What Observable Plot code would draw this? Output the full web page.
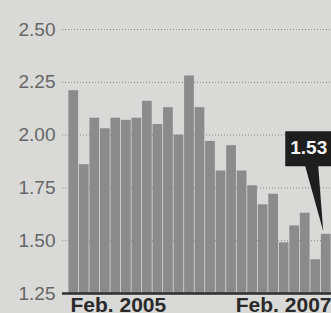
<!DOCTYPE html>
<html>
<head>
<meta charset="utf-8">
<script src="https://cdn.jsdelivr.net/npm/d3@7"></script>
<script src="https://cdn.jsdelivr.net/npm/@observablehq/plot@0.6"></script>
<style>
  html, body { margin: 0; padding: 0; background: #d9d9d7; }
  #chart svg { display: block; }
</style>
</head>
<body>
<div id="chart"></div>
<script>
// Monthly values, Feb. 2005 – Feb. 2007
const months = ["2005-02","2005-03","2005-04","2005-05","2005-06","2005-07","2005-08","2005-09","2005-10","2005-11","2005-12",
  "2006-01","2006-02","2006-03","2006-04","2006-05","2006-06","2006-07","2006-08","2006-09","2006-10","2006-11","2006-12",
  "2007-01","2007-02"];
const values = [2.21, 1.86, 2.08, 2.03, 2.08, 2.07, 2.08, 2.16, 2.05, 2.13, 2.00,
  2.28, 2.13, 1.97, 1.83, 1.95, 1.83, 1.76, 1.67, 1.72, 1.49, 1.57, 1.63, 1.41, 1.53];
const yTicks = [1.25, 1.50, 1.75, 2.00, 2.25, 2.50];
const xLabels = ["Feb. 2005", "Feb. 2007"];

const data = months.map((m, i) => ({month: m, i, value: values[i]}));
const last = data[data.length - 1];
const base = yTicks[0];

// callout shape (box + long tail), tip at the origin
const callout = {
  draw(ctx) {
    ctx.moveTo(0, 0);
    ctx.lineTo(-5, -65);
    ctx.lineTo(40, -65);
    ctx.lineTo(40, -100);
    ctx.lineTo(-38, -100);
    ctx.lineTo(-38, -65);
    ctx.lineTo(-18, -65);
    ctx.closePath();
  }
};

const chart = Plot.plot({
  width: 331,
  height: 313,
  marginLeft: 62,
  marginRight: 0,
  marginTop: 29,
  marginBottom: 20,
  style: {background: "#d9d9d7", overflow: "hidden"},
  x: {type: "linear", domain: [-0.57, months.length], axis: null},
  y: {domain: [base, yTicks[yTicks.length - 1]], axis: null},
  marks: [
    Plot.ruleY(yTicks.slice(1), {stroke: "#8a8a8a", strokeWidth: 1, strokeDasharray: "1,2"}),
    Plot.rect(data, {x1: "i", x2: d => d.i + 1, y1: () => base, y2: "value", fill: "#8b8b8b", insetLeft: 0.4, insetRight: 0.4}),
    Plot.ruleY([base], {stroke: "#2e2e2e", strokeWidth: 2.5}),
    Plot.axisY(yTicks, {tickSize: 0, tickPadding: 7, tickFormat: d3.format(".2f"), label: null,
      fontSize: 19, fill: "#666", fontFamily: "Liberation Sans, Arial, sans-serif"}),
    Plot.text([xLabels[0]], {x: () => 0, y: () => base, text: d => d, textAnchor: "start", lineAnchor: "top",
      dx: 2, dy: 4, fontSize: 21, fontWeight: "bold", fill: "#2a2a2a",
      fontFamily: "Liberation Sans Narrow, Arial Narrow, sans-serif"}),
    Plot.text([xLabels[1]], {x: () => months.length, y: () => base, text: d => d, textAnchor: "end", lineAnchor: "top",
      dx: 0, dy: 4, fontSize: 21, fontWeight: "bold", fill: "#2a2a2a",
      fontFamily: "Liberation Sans Narrow, Arial Narrow, sans-serif"}),
    Plot.dot([last], {x: d => d.i + 0.5, y: "value", symbol: callout, r: 1, fill: "#1e1e1e", stroke: "none", dx: -3, dy: -3}),
    Plot.text([last], {x: d => d.i + 0.5, y: "value", text: d => d3.format(".2f")(d.value), textAnchor: "start",
      lineAnchor: "middle", dx: -36, dy: -86, fontSize: 19, fontWeight: "bold", fill: "#f4f4f4",
      fontFamily: "Liberation Sans, Arial, sans-serif"})
  ]
});
document.getElementById("chart").append(chart);
</script>
</body>
</html>
